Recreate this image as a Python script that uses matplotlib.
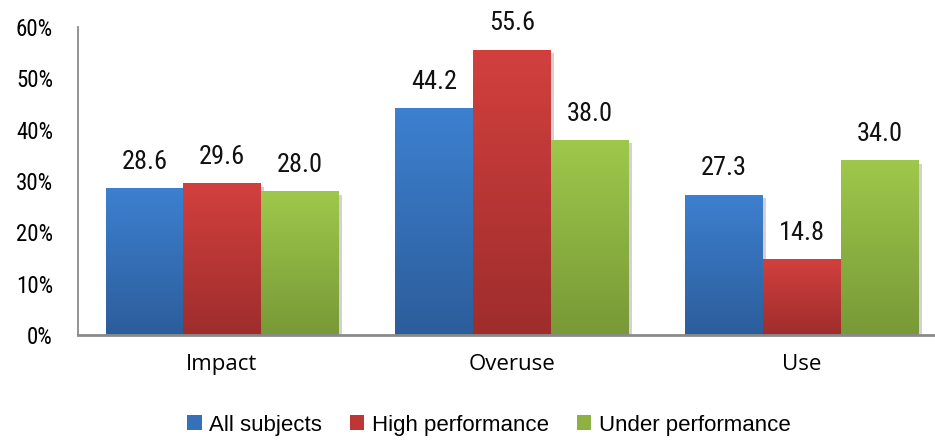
import numpy as np
import matplotlib
matplotlib.use("Agg")
import matplotlib.pyplot as plt
import matplotlib.patheffects as pe
from matplotlib.colors import LinearSegmentedColormap
from matplotlib.patches import Patch

categories = ["Impact", "Overuse", "Use"]
series_names = ["All subjects", "High performance", "Under performance"]
all_subjects = [28.6, 44.2, 27.3]
high_perf = [29.6, 55.6, 14.8]
under_perf = [28.0, 38.0, 34.0]
y_ticks = [0, 10, 20, 30, 40, 50, 60]

# (top, bottom) colours of each series' vertical gradient
shades = [("#3d80d0", "#2c5d9b"), ("#d2403e", "#9e2d2c"), ("#9ec84b", "#789937")]
legend_colors = ["#3570b8", "#be3736", "#8db142"]

narrow = ["Roboto Condensed", "Liberation Sans", "DejaVu Sans"]
regular = ["Liberation Sans", "DejaVu Sans"]

fig = plt.figure(figsize=(9.35, 4.4), dpi=100)
ax = fig.add_axes([78 / 935, 1 - 335 / 440, 1 - 78 / 935, 308 / 440])

x = np.arange(len(categories))
width = 0.268
grad = np.linspace(1, 0, 256).reshape(-1, 1)

for i, (vals, (top, bot)) in enumerate(zip([all_subjects, high_perf, under_perf], shades)):
    cmap = LinearSegmentedColormap.from_list(f"g{i}", [bot, top])
    pos = x + (i - 1) * width
    bars = ax.bar(pos, vals, width, color=top, zorder=2, linewidth=0)
    for b, v in zip(bars, vals):
        b.set_path_effects([pe.SimplePatchShadow(offset=(2.5, -2.5), shadow_rgbFace="#808080", alpha=0.35),
                            pe.Normal()])
        x0 = b.get_x()
        im = ax.imshow(grad, cmap=cmap, extent=(x0, x0 + width, 0, v),
                       aspect="auto", zorder=3, interpolation="bicubic")
        im.set_clip_path(b)
        ax.annotate(f"{v:.1f}", (x0 + width / 2, v), xytext=(0, 19),
                    textcoords="offset points", ha="center", va="center",
                    fontsize=19, family=narrow, color="#111111")

ax.set_xlim(-0.497, 2.46)
ax.set_ylim(0, 60)
ax.set_yticks(y_ticks)
ax.set_yticklabels([f"{t}%" for t in y_ticks], family=narrow, fontsize=16.5)
ax.set_xticks(x)
ax.set_xticklabels(categories, family=["Open Sans", "DejaVu Sans"], fontsize=16)
ax.tick_params(axis="y", length=0, pad=18)
ax.tick_params(axis="x", length=0, pad=14)

for side in ["top", "right"]:
    ax.spines[side].set_visible(False)
ax.spines["left"].set_color("#8a8a8a")
ax.spines["left"].set_linewidth(1.3)
ax.spines["bottom"].set_color("#8a8a8a")
ax.spines["bottom"].set_linewidth(2)
ax.spines["bottom"].set_zorder(4)

handles = [Patch(facecolor=c, edgecolor="none") for c in legend_colors]
fig.legend(handles, series_names, loc="center", bbox_to_anchor=(489 / 935, 1 - 425 / 440),
           ncol=3, frameon=False, prop={"family": regular, "size": 16},
           handlelength=0.65, handleheight=0.65, handletextpad=0.35, columnspacing=1.25)

fig.savefig("out.png", dpi=100)
